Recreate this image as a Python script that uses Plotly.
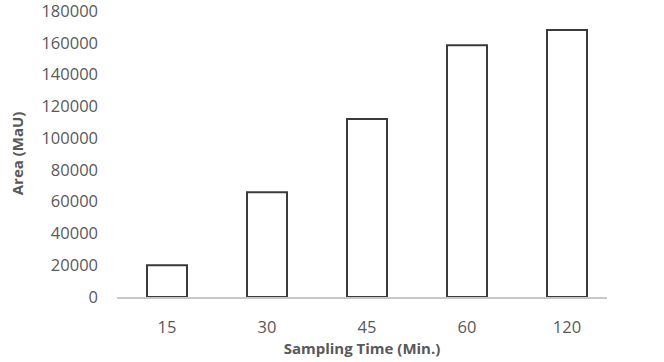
import plotly.graph_objects as go

categories = ["15", "30", "45", "60", "120"]
values = [20000, 66000, 112000, 158500, 168000]
y_ticks = [0, 20000, 40000, 60000, 80000, 100000, 120000, 140000, 160000, 180000]

fig = go.Figure(go.Bar(
    x=categories, y=values, width=0.4,
    marker=dict(color="white", line=dict(color="#3a3a3a", width=2)),
))

font_family = "Open Sans"
fig.update_layout(
    width=664, height=362,
    margin=dict(l=117, r=57, t=11, b=65),
    paper_bgcolor="white", plot_bgcolor="white",
    showlegend=False,
    font=dict(family=font_family, color="#595959", size=16),
)
fig.update_xaxes(
    type="category", range=[-0.5, 4.4], automargin=False,
    showline=True, linecolor="#c8c8c8", linewidth=1.5,
    showgrid=False, ticks="", ticklabelstandoff=14,
    tickfont=dict(size=16.5, color="#595959"),
    title=dict(text="<b>Sampling Time (Min.)</b>", font=dict(size=15, color="#595959"), standoff=6),
)
fig.update_yaxes(
    range=[0, 180000], tickvals=y_ticks, ticktext=[str(v) for v in y_ticks],
    automargin=False, ticklabeloverflow="allow",
    showgrid=False, zeroline=False, showline=False, ticks="",
    ticklabelstandoff=18,
    tickfont=dict(size=16.5, color="#595959"),
)
fig.add_annotation(
    text="<b>Area (MaU)</b>", textangle=-90,
    xref="paper", yref="paper", x=(17 - 117) / 490, y=(296.5 - 153) / 285.5,
    xanchor="center", yanchor="middle", showarrow=False,
    font=dict(size=15, color="#595959"),
)

fig.write_html(
    "out.html",
    config={"displayModeBar": False},
    post_script="document.body.style.margin='0';document.body.style.overflow='hidden';",
)
